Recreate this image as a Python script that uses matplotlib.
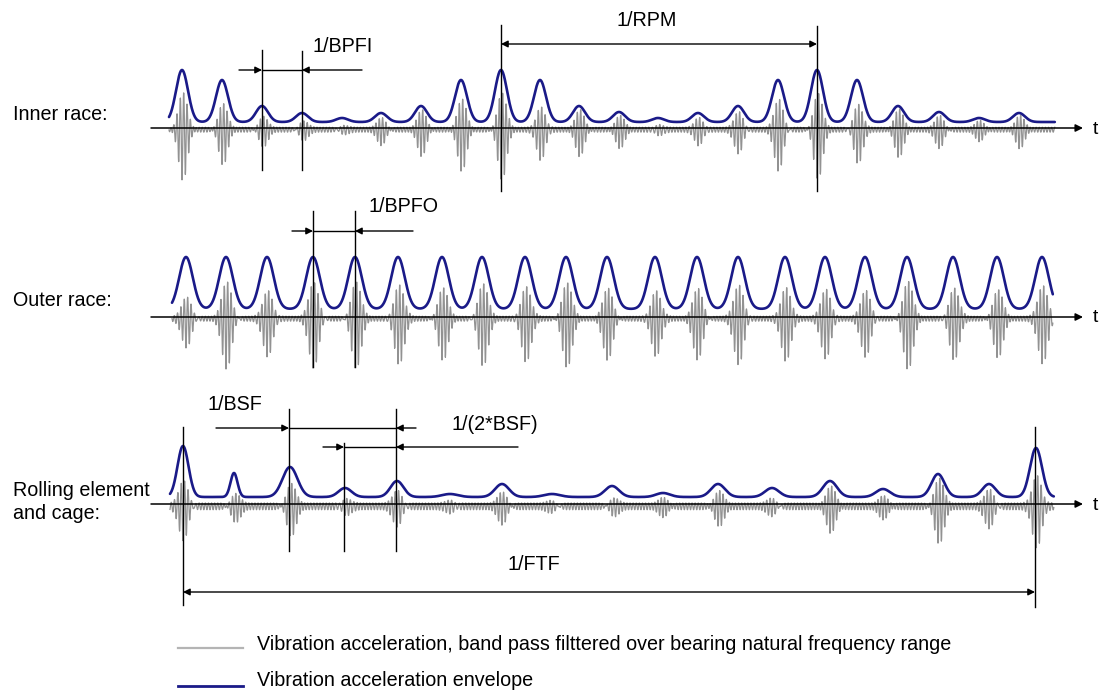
import numpy as np
import matplotlib
matplotlib.use("Agg")
import matplotlib.pyplot as plt

plt.rcParams['font.family'] = ['Liberation Sans', 'DejaVu Sans']

# --- data (x = time position, amplitudes in drawing units) ---
# inner race: impacts at BPFI, modulated once per revolution
inner_t = [182, 222, 262, 302, 342, 381, 421, 461, 501, 540, 579,
           619, 658, 698, 738, 778, 817, 857, 898, 939, 979, 1019]
inner_env = [52, 42, 16, 9, 4, 9, 16, 42, 52, 42, 16,
             10, 4, 9, 16, 42, 52, 42, 16, 10, 4, 9]
inner_acc = [49, 34, 17, 12, 7, 15, 25, 40, 49, 34, 25,
             17, 9, 19, 26, 42, 49, 35, 26, 18, 10, 17]

# outer race: constant impacts at BPFO
outer_t = [186, 226, 267, 313, 355, 398, 442, 482, 525, 566, 607,
           655, 697, 738, 785, 825, 865, 907, 953, 997, 1042]
outer_env = [52] * 21
outer_acc = [30, 50, 41, 50, 50, 48, 41, 48, 46, 48, 40,
             41, 40, 48, 46, 43, 40, 50, 43, 38, 48]

# rolling element and cage
roll_t = [183, 234, 290, 345, 397, 450, 502, 552, 612, 663, 718,
          772, 830, 883, 938, 989, 1036]
roll_env = [51, 24, 30, 9, 16, 3, 13, 3, 11, 4, 13, 9, 16, 8, 23, 13, 49]
roll_acc = [36, 16, 29, 13, 23, 11, 18, 8, 11, 9, 18, 11, 24, 11, 36, 24, 46]
roll_w = [5.5, 3.5, 7.5, 6.5, 6.5, 8, 7, 8, 7, 7, 7, 7, 7, 7, 6.5, 6.5, 6]

row_labels = ["Inner race:", "Outer race:", "Rolling element\nand cage:"]
legend_labels = ["Vibration acceleration, band pass filttered over bearing natural frequency range",
                 "Vibration acceleration envelope"]

GRAY = '#929292'
NAVY = '#1a1a88'


def draw_row(ax, t, env, acc, axis_y, base_y, sig, x0, x1, noise, widths=None):
    x = np.arange(x0, x1, 0.2)
    if widths is None:
        widths = [sig] * len(t)
    # envelope
    e = np.zeros_like(x)
    for tk, hk, wk in zip(t, env, widths):
        e += hk * np.exp(-0.5 * ((x - tk) / wk) ** 2)
    ax.plot(x, base_y - e, color=NAVY, lw=1.9, zorder=3, solid_capstyle='round')
    # band-pass signal: carrier bursts at each impact on top of small ripple
    s = noise * np.sin(2 * np.pi * x / 3.1) - 0.6 * noise
    for tk, ak in zip(t, acc):
        g = np.exp(-0.5 * ((x - tk - 1) / (0.55 * sig + 1.2)) ** 2)
        s += ak * g * np.sin(2 * np.pi * (x - tk) / 3.4 - np.pi / 2)
    s = np.where(s > 0, 0.72 * s, s)
    ax.plot(x, axis_y - s, color=GRAY, lw=0.9, zorder=2)
    # time axis
    ax.annotate('', xy=(1083, axis_y), xytext=(151, axis_y),
                arrowprops=dict(arrowstyle='-|>', color='black', lw=1.1,
                                mutation_scale=11, shrinkA=0, shrinkB=0), zorder=4)
    ax.text(1093, axis_y + 1, 't', fontsize=14, va='center', ha='left')


def vline(ax, x, y0, y1):
    ax.plot([x, x], [y0, y1], color='black', lw=1.0, zorder=4)


def arrow(ax, x_from, x_to, y):
    ax.annotate('', xy=(x_to, y), xytext=(x_from, y),
                arrowprops=dict(arrowstyle='-|>', color='black', lw=1.0,
                                mutation_scale=10, shrinkA=0, shrinkB=0), zorder=4)


def dim(ax, x_left_start, xa, xb, x_right_start, y):
    # arrows pointing inwards onto two marker lines, joined by a plain line
    arrow(ax, x_left_start, xa, y)
    ax.plot([xa, xb], [y, y], color='black', lw=1.0, zorder=4)
    arrow(ax, x_right_start, xb, y)


def double_arrow(ax, xa, xb, y):
    ax.annotate('', xy=(xb, y), xytext=(xa, y),
                arrowprops=dict(arrowstyle='<|-|>', color='black', lw=1.0,
                                mutation_scale=10, shrinkA=0, shrinkB=0), zorder=4)


fig = plt.figure(figsize=(11.01, 6.92), dpi=100)
ax = fig.add_axes([0, 0, 1, 1])
ax.set_xlim(0, 1101)
ax.set_ylim(692, 0)
ax.axis('off')

FS = 14.2

# inner race
draw_row(ax, inner_t, inner_env, inner_acc, 128, 122, 6.0, 169, 1055, 2.6)
vline(ax, 262, 50, 170)
vline(ax, 302, 51, 170)
dim(ax, 239, 262, 302, 362, 70)
ax.text(343, 46, "1/BPFI", fontsize=FS, ha='center', va='center')
vline(ax, 501, 25, 191)
vline(ax, 817, 26, 191)
double_arrow(ax, 501, 817, 44)
ax.text(647, 20, "1/RPM", fontsize=FS, ha='center', va='center')

# outer race
draw_row(ax, outer_t, outer_env, outer_acc, 317, 309, 6.8, 172, 1053, 2.6)
vline(ax, 313, 211, 367)
vline(ax, 355, 211, 367)
dim(ax, 292, 313, 355, 413, 231)
ax.text(404, 207, "1/BPFO", fontsize=FS, ha='center', va='center')

# rolling element and cage
draw_row(ax, roll_t, roll_env, roll_acc, 504, 497, 6.5, 170, 1054, 3.6, widths=roll_w)
vline(ax, 183, 427, 605)
vline(ax, 289, 409, 551)
vline(ax, 344, 443, 551)
vline(ax, 396, 409, 551)
vline(ax, 1035, 427, 607)
dim(ax, 216, 289, 396, 416, 428)
dim(ax, 323, 344, 396, 518, 447)
double_arrow(ax, 183, 1035, 592)
ax.text(235, 405, "1/BSF", fontsize=FS, ha='center', va='center')
ax.text(495, 424, "1/(2*BSF)", fontsize=FS, ha='center', va='center')
ax.text(534, 565, "1/FTF", fontsize=FS, ha='center', va='center')

# row labels
ax.text(13, 115, row_labels[0], fontsize=FS, ha='left', va='center')
ax.text(13, 300, row_labels[1], fontsize=FS, ha='left', va='center')
ax.text(13, 502, row_labels[2], fontsize=FS, ha='left', va='center', linespacing=1.25)

# legend
ax.plot([178, 243], [648, 648], color='#b4b4b4', lw=1.6)
ax.plot([178, 243], [686, 686], color=NAVY, lw=2.0)
ax.text(257, 644, legend_labels[0], fontsize=FS, ha='left', va='center')
ax.text(257, 681, legend_labels[1], fontsize=FS, ha='left', va='center')

fig.savefig("out.png", dpi=100)
